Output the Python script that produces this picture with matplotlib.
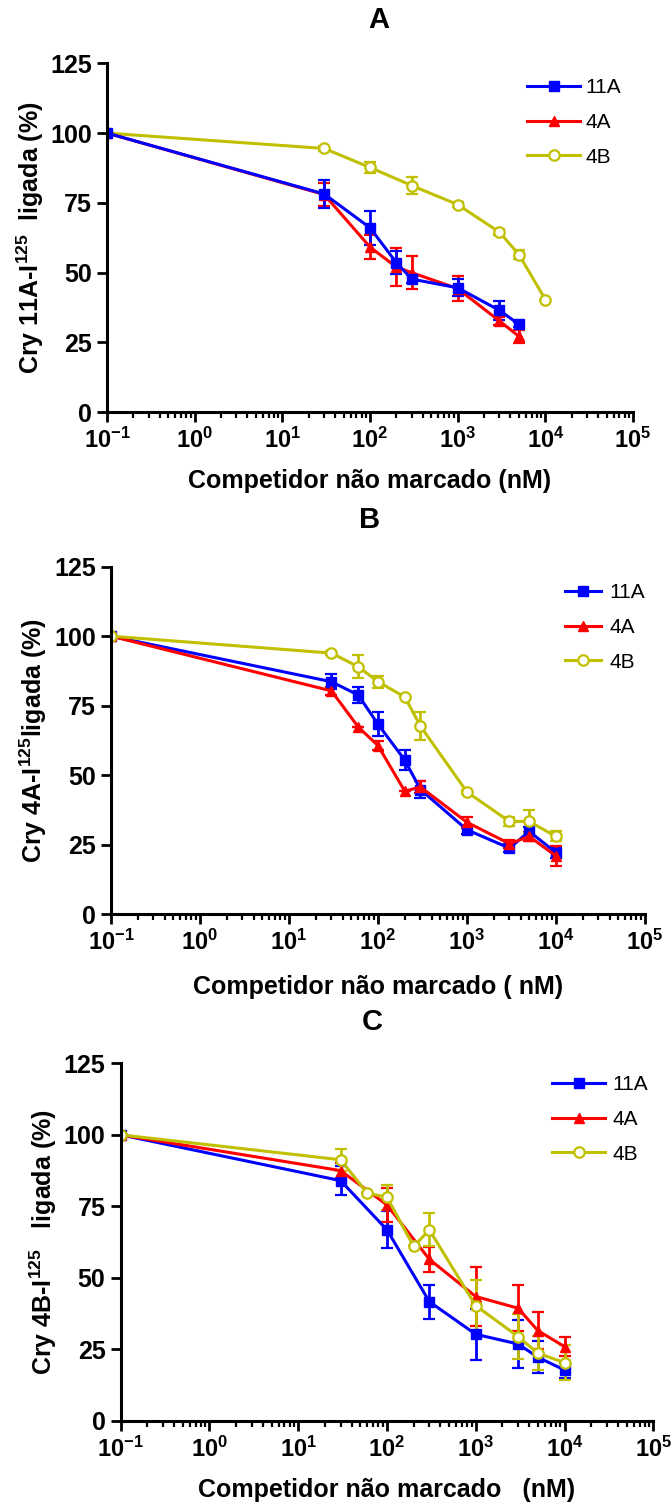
import matplotlib
matplotlib.use("Agg")
import matplotlib.pyplot as plt
import numpy as np
from matplotlib.ticker import LogLocator, FixedLocator, NullFormatter
from matplotlib.lines import Line2D

plt.rcParams['font.family'] = ['Liberation Sans', 'DejaVu Sans']
plt.rcParams['mathtext.fontset'] = 'custom'
plt.rcParams['mathtext.rm'] = 'Liberation Sans:bold'
plt.rcParams['mathtext.it'] = 'Liberation Sans:bold'
plt.rcParams['mathtext.bf'] = 'Liberation Sans:bold'

series_names = ["11A", "4A", "4B"]
colors = {"11A": "#0000ff", "4A": "#ff0000", "4B": "#c0c000"}

# Panel A
a_x = {"11A": [0.1, 30, 100, 200, 300, 1000, 3000, 5000],
       "4A": [0.1, 30, 100, 200, 300, 1000, 3000, 5000],
       "4B": [0.1, 30, 100, 300, 1000, 3000, 5000, 10000]}
a_y = {"11A": [100, 78.2, 66.1, 53.6, 47.7, 44.6, 36.5, 31.5],
       "4A": [100, 78.0, 59.2, 52.0, 50.0, 44.3, 32.7, 27.2],
       "4B": [100, 94.5, 87.7, 81.2, 74.4, 64.5, 56.5, 40.4]}
a_e = {"11A": [0, 5.0, 6.0, 4.0, 1.5, 3.0, 3.5, 1.0],
       "4A": [0, 4.0, 4.4, 6.7, 6.0, 4.5, 1.5, 2.4],
       "4B": [0, 1.0, 2.0, 3.0, 1.0, 1.0, 1.5, 0]}

# Panel B
b_x = {"11A": [0.1, 30, 60, 100, 200, 300, 1000, 3000, 5000, 10000],
       "4A": [0.1, 30, 60, 100, 200, 300, 1000, 3000, 5000, 10000],
       "4B": [0.1, 30, 60, 100, 200, 300, 1000, 3000, 5000, 10000]}
b_y = {"11A": [100, 83.6, 78.8, 68.3, 55.4, 44.8, 30.3, 23.7, 29.7, 22.1],
       "4A": [100, 80.3, 67.3, 60.6, 44.2, 45.7, 33.0, 25.3, 27.9, 20.9],
       "4B": [100, 93.9, 89.0, 83.6, 78.1, 67.6, 43.9, 33.3, 33.3, 27.9]}
b_e = {"11A": [0, 2.7, 3.0, 4.3, 3.7, 3.0, 1.5, 1.5, 1.5, 2.0],
       "4A": [0, 1.5, 0, 1.5, 0, 2.3, 2.0, 1.5, 1.5, 3.5],
       "4B": [0, 0.8, 4.2, 2.2, 0, 5.1, 0.8, 1.6, 4.2, 1.8]}

# Panel C
c_x = {"11A": [0.1, 30, 100, 300, 1000, 3000, 5000, 10000],
       "4A": [0.1, 30, 100, 300, 1000, 3000, 5000, 10000],
       "4B": [0.1, 30, 60, 100, 200, 300, 1000, 3000, 5000, 10000]}
c_y = {"11A": [100, 84.0, 66.8, 41.7, 30.3, 26.9, 22.3, 17.8],
       "4A": [100, 87.5, 75.5, 56.5, 43.5, 39.4, 31.6, 26.0],
       "4B": [100, 91.3, 79.6, 78.2, 61.0, 66.8, 40.3, 29.5, 23.7, 20.4]}
c_e = {"11A": [0, 5.0, 6.5, 6.0, 9.0, 8.3, 5.5, 2.6],
       "4A": [0, 2.5, 6.0, 4.3, 10.2, 8.0, 6.4, 3.4],
       "4B": [0, 3.8, 0, 4.4, 0, 5.8, 8.9, 7.9, 6.0, 6.0]}

titles = ["A", "B", "C"]
ylabels = [r"Cry 11A-I$^{125}$  ligada (%)", r"Cry 4A-I$^{125}$ligada (%)",
           r"Cry 4B-I$^{125}$   ligada (%)"]
xlabels = ["Competidor não marcado (nM)", "Competidor não marcado ( nM)",
           "Competidor não marcado   (nM)"]
yticks = [0, 25, 50, 75, 100, 125]
xticks = [1e-1, 1e0, 1e1, 1e2, 1e3, 1e4, 1e5]
xticklabels = [r"$10^{-1}$", r"$10^{0}$", r"$10^{1}$", r"$10^{2}$", r"$10^{3}$",
               r"$10^{4}$", r"$10^{5}$"]

W, H = 672, 1508
fig = plt.figure(figsize=(W / 100, H / 100), dpi=100)

# axes boxes in pixels: left, right, top, bottom
boxes = [(107, 633, 63.3, 412.3), (111, 645, 566.7, 914), (120.7, 653.3, 1063.3, 1421)]
title_pos = [(379, 19.5), (370, 520), (372, 1022)]
ylabel_x = [30, 33, 43]
xlabel_y = [481, 987, 1490]
legend_anchor = [(519, 70), (557, 575), (544, 1067)]
legend_hlen = [2.55, 1.7, 2.55]
legend_pad = [0.25, 0.4, 0.35]

datasets = [(a_x, a_y, a_e), (b_x, b_y, b_e), (c_x, c_y, c_e)]
markers = {"11A": dict(marker="s", ms=7, mfc=colors["11A"], mec=colors["11A"]),
           "4A": dict(marker="^", ms=7, mfc=colors["4A"], mec=colors["4A"]),
           "4B": dict(marker="o", ms=7.5, mfc="white", mec=colors["4B"], mew=1.6)}

for i, (l, r, t, b) in enumerate(boxes):
    ax = fig.add_axes([l / W, (H - b) / H, (r - l) / W, (b - t) / H])
    xs, ys, es = datasets[i]
    order = ["4B", "4A", "11A"] if i == 0 else ["11A", "4A", "4B"]
    for name in order:
        ax.errorbar(xs[name], ys[name], yerr=es[name], color=colors[name],
                    lw=2.2, elinewidth=2.0, capsize=4, capthick=1.6,
                    **markers[name])
    ax.set_xscale("log")
    ax.set_xlim(0.1, 1e5)
    ax.set_ylim(0, 125)
    ax.set_yticks(yticks)
    ax.set_yticklabels([str(v) for v in yticks], fontsize=18, fontweight="bold")
    ax.xaxis.set_major_locator(FixedLocator(xticks))
    ax.set_xticklabels(xticklabels, fontsize=17)
    ax.xaxis.set_minor_locator(LogLocator(base=10, subs=np.arange(2, 10), numticks=20))
    ax.xaxis.set_minor_formatter(NullFormatter())
    for s in ["top", "right"]:
        ax.spines[s].set_visible(False)
    for s in ["left", "bottom"]:
        ax.spines[s].set_linewidth(2.2)
    ax.tick_params(axis="both", which="major", direction="out", length=7, width=2.0,
                   color="black", pad=4)
    ax.tick_params(axis="x", which="minor", direction="out", length=4, width=1.6)
    fig.text(((l + r) / 2) / W, 1 - xlabel_y[i] / H, xlabels[i], fontsize=18,
             fontweight="bold", ha="center", va="center")
    fig.text(ylabel_x[i] / W, 1 - ((t + b) / 2) / H, ylabels[i], rotation=90,
             fontsize=18, fontweight="bold", ha="center", va="center")
    fig.text(title_pos[i][0] / W, 1 - title_pos[i][1] / H, titles[i], fontsize=21,
             fontweight="bold", ha="center", va="center")
    hl = [Line2D([], [], color=colors[n], lw=2.2, **markers[n]) for n in series_names]
    ax.legend(hl, series_names, loc="upper left",
              bbox_to_anchor=(legend_anchor[i][0] / W, 1 - legend_anchor[i][1] / H),
              bbox_transform=fig.transFigure, frameon=False, fontsize=15,
              handlelength=legend_hlen[i], labelspacing=0.75,
              handletextpad=legend_pad[i], borderaxespad=0)

fig.savefig("out.png", dpi=100)
